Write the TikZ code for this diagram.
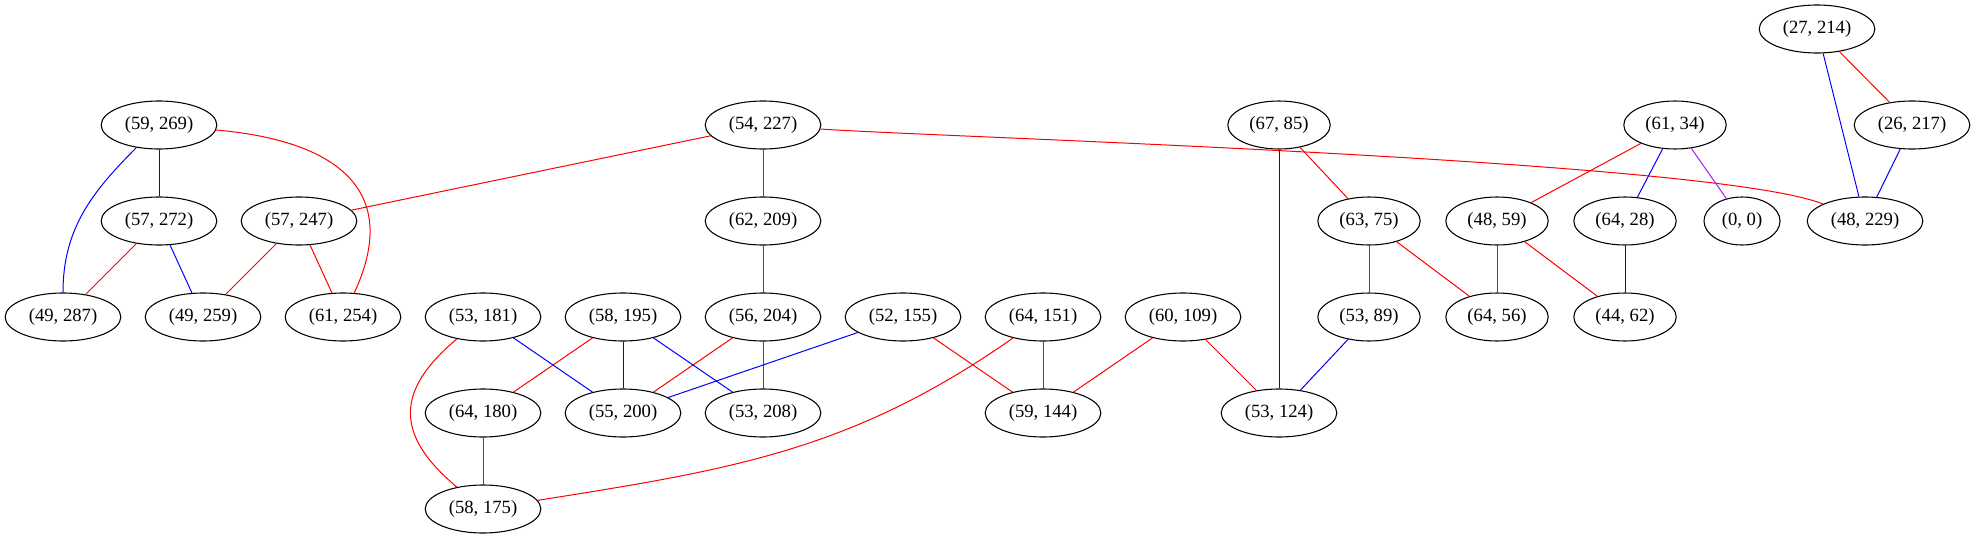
\documentclass[tikz,border=0pt]{standalone}
\usepackage{fontspec}
\setmainfont{Liberation Serif}
\usetikzlibrary{shapes.geometric}
\definecolor{purpura}{HTML}{A020F0}
\begin{document}
\begin{tikzpicture}[x=0.75pt, y=0.75pt,
    no/.style={draw, ellipse, line width=0.8pt, inner xsep=5pt, inner ysep=0pt,
      minimum height=36pt, font=\fontsize{14pt}{16pt}\selectfont},
    vermelha/.style={draw=red, line width=0.75pt},
    azul/.style={draw=blue, line width=0.75pt},
    roxa/.style={draw=purpura, line width=0.75pt}]
    \useasboundingbox (0,0) rectangle (1976,-539);

    % Nós (uma linha por nível)
    \node[no] (n27x214) at (1817,-29) {(27, 214)};

    \node[no] (n59x269) at (159,-125) {(59, 269)};
    \node[no] (n54x227) at (763,-125) {(54, 227)};
    \node[no] (n67x85) at (1279,-125) {(67, 85)};
    \node[no] (n61x34) at (1675,-125) {(61, 34)};
    \node[no] (n26x217) at (1912,-125) {(26, 217)};

    \node[no] (n57x272) at (159,-221) {(57, 272)};
    \node[no] (n57x247) at (299,-221) {(57, 247)};
    \node[no] (n62x209) at (763,-221) {(62, 209)};
    \node[no] (n63x75) at (1369,-221) {(63, 75)};
    \node[no] (n48x59) at (1497,-221) {(48, 59)};
    \node[no] (n64x28) at (1625,-221) {(64, 28)};
    \node[no] (n0x0) at (1742,-221) {(0, 0)};
    \node[no] (n48x229) at (1865,-221) {(48, 229)};

    \node[no] (n49x287) at (63,-317) {(49, 287)};
    \node[no] (n49x259) at (203,-317) {(49, 259)};
    \node[no] (n61x254) at (343,-317) {(61, 254)};
    \node[no] (n53x181) at (483,-317) {(53, 181)};
    \node[no] (n58x195) at (623,-317) {(58, 195)};
    \node[no] (n56x204) at (763,-317) {(56, 204)};
    \node[no] (n52x155) at (903,-317) {(52, 155)};
    \node[no] (n64x151) at (1043,-317) {(64, 151)};
    \node[no] (n60x109) at (1183,-317) {(60, 109)};
    \node[no] (n53x89) at (1369,-317) {(53, 89)};
    \node[no] (n64x56) at (1497,-317) {(64, 56)};
    \node[no] (n44x62) at (1625,-317) {(44, 62)};

    \node[no] (n64x180) at (483,-413) {(64, 180)};
    \node[no] (n55x200) at (623,-413) {(55, 200)};
    \node[no] (n53x208) at (763,-413) {(53, 208)};
    \node[no] (n59x144) at (1043,-413) {(59, 144)};
    \node[no] (n53x124) at (1279,-413) {(53, 124)};

    \node[no] (n58x175) at (483,-509) {(58, 175)};

    % Arestas vermelhas
    \draw[vermelha] (n27x214) -- (n26x217);
    \draw[vermelha] (n59x269) to[out=-5, in=65, looseness=1.4] (n61x254);
    \draw[vermelha] (n54x227) -- (n57x247);
    \draw[vermelha] (n54x227) -- (n62x209);
    \draw[vermelha] (n54x227) to[out=-4, in=158, looseness=0.3] (n48x229); % aresta longa
    \draw[vermelha] (n67x85) -- (n63x75);
    \draw[vermelha] (n61x34) -- (n48x59);
    \draw[vermelha] (n57x272) -- (n49x287);
    \draw[vermelha] (n57x247) -- (n49x259);
    \draw[vermelha] (n57x247) -- (n61x254);
    \draw[vermelha] (n62x209) -- (n56x204);
    \draw[vermelha] (n63x75) -- (n53x89);
    \draw[vermelha] (n63x75) -- (n64x56);
    \draw[vermelha] (n48x59) -- (n64x56);
    \draw[vermelha] (n48x59) -- (n44x62);
    \draw[vermelha] (n53x181) to[out=-140, in=140, looseness=1.4] (n58x175);
    \draw[vermelha] (n58x195) -- (n64x180);
    \draw[vermelha] (n56x204) -- (n55x200);
    \draw[vermelha] (n56x204) -- (n53x208);
    \draw[vermelha] (n52x155) -- (n59x144);
    \draw[vermelha] (n64x151) -- (n59x144);
    \draw[vermelha] (n64x151) to[out=-145, in=9] (n58x175);
    \draw[vermelha] (n60x109) -- (n59x144);
    \draw[vermelha] (n60x109) -- (n53x124);
    \draw[vermelha] (n64x180) -- (n58x175);

    % Arestas azuis
    \draw[azul] (n27x214) -- (n48x229);
    \draw[azul] (n26x217) -- (n48x229);
    \draw[azul] (n59x269) -- (n57x272);
    \draw[azul] (n59x269) to[out=-135, in=90] (n49x287);
    \draw[azul] (n67x85) -- (n53x124);
    \draw[azul] (n61x34) -- (n64x28);
    \draw[azul] (n57x272) -- (n49x259);
    \draw[azul] (n64x28) -- (n44x62);
    \draw[azul] (n53x181) -- (n55x200);
    \draw[azul] (n58x195) -- (n55x200);
    \draw[azul] (n58x195) -- (n53x208);
    \draw[azul] (n52x155) -- (n55x200);
    \draw[azul] (n53x89) -- (n53x124);

    % Aresta roxa
    \draw[roxa] (n61x34) -- (n0x0);
\end{tikzpicture}
\end{document}
